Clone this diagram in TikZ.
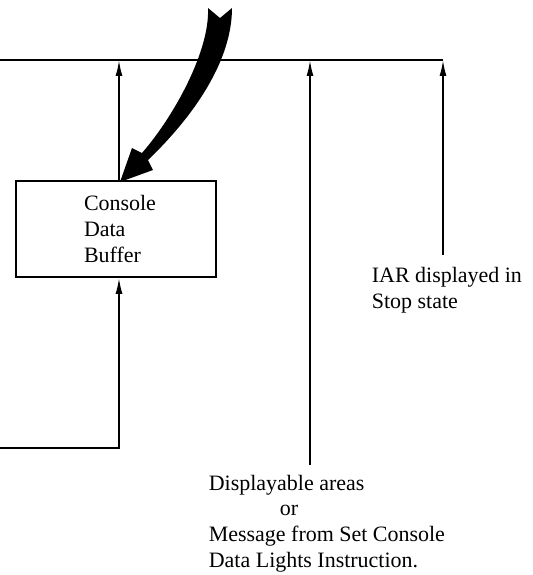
\documentclass[tikz,border=0pt]{standalone}
\usepackage{fontspec}
\setmainfont{Liberation Serif}
\usetikzlibrary{arrows.meta}
\begin{document}
\begin{tikzpicture}[x=0.02cm, y=-0.02cm, line width=1pt, >={Latex[length=0.32cm,width=0.14cm]},
  font=\fontsize{12.5}{15}\selectfont,
  box/.style={draw, minimum width=4cm, minimum height=1.92cm, align=left, text width=1.28cm, inner xsep=0pt},
  txt/.style={anchor=north west, align=left, inner sep=0pt}]
  \useasboundingbox (0,0) rectangle (533,575);
  \node[box] (buf) at (116,229) {Console\\Data\\Buffer};
  \node[txt] (iar) at (371,266) {IAR displayed in\\Stop state};
  \node[txt, font=\fontsize{12.5}{14.6}\selectfont] (disp) at (208,474) {Displayable areas\\\hspace*{1.42cm}or\\Message from Set Console\\Data Lights Instruction.};

  \coordinate (busL) at (0,60);
  \coordinate (busR) at (443,60);
  \coordinate (feedL) at (0,448);
  \coordinate (dispEnd) at (310,465);
  \coordinate (iarEnd) at (443,255);
  \coordinate (bufUp) at ([xshift=0.06cm]buf.north);
  \coordinate (bufDn) at ([xshift=0.06cm]buf.south);

  \draw (busL) -- (busR);
  \draw[->] (bufUp) -- (bufUp |- busL);
  \draw[->] (feedL) -| (bufDn);
  \draw[->] (dispEnd) -- (dispEnd |- busL);
  \draw[->] (iarEnd) -- (busR);

  % heavy curved arrow into the buffer
  \fill (220,18) -- (232,8) .. controls (232,60) and (195,115) .. (148,160) -- (153,170) -- (120,182)
    -- (132,148) -- (142,153) .. controls (175,115) and (210,50) .. (208,8) -- cycle;
\end{tikzpicture}
\end{document}
